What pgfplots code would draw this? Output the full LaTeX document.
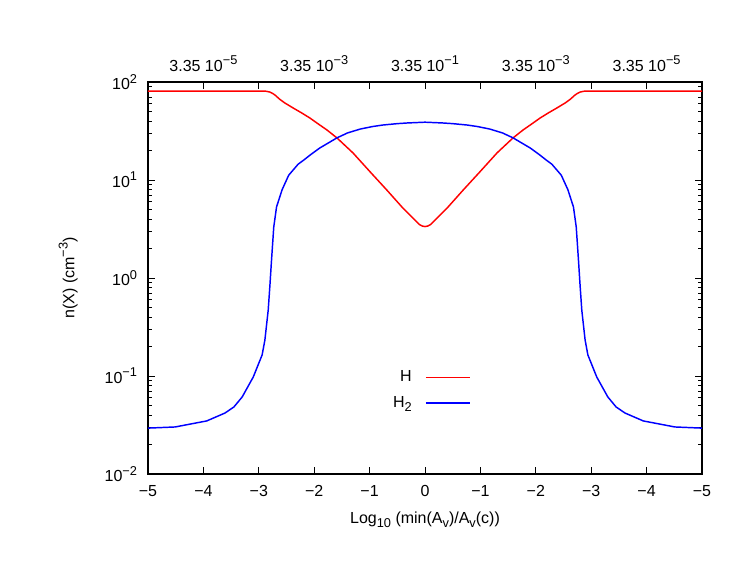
\documentclass[border=0pt]{standalone}
\usepackage{fontspec}
\setmainfont{Liberation Sans}
\usepackage{pgfplots}
\pgfplotsset{compat=1.18}
\usepackage{pgfplotstable}

% gnuplot-like super/subscripts (larger than \textsuperscript)
\newcommand{\sups}[1]{\raisebox{0.42em}{\fontsize{9.6}{10}\selectfont #1}}
\newcommand{\subs}[1]{\raisebox{-0.28em}{\fontsize{9.6}{10}\selectfont #1}}

% n(H) against the symmetric depth coordinate
\pgfplotstableread{
x y
-5.00 80.9
-2.94 80.9
-2.87 80.5
-2.80 79.0
-2.75 76.5
-2.70 73.0
-2.62 66.5
-2.53 61.1
-2.38 54.3
-2.23 48.5
-2.08 43.0
-1.92 37.1
-1.77 32.4
-1.59 26.9
-1.30 18.9
-0.99 12.1
-0.69 7.91
-0.40 5.18
-0.25 4.27
-0.18 3.89
-0.10 3.51
-0.05 3.39
0.00 3.35
0.05 3.39
0.10 3.51
0.18 3.89
0.25 4.27
0.40 5.18
0.69 7.91
0.99 12.1
1.30 18.9
1.59 26.9
1.77 32.4
1.92 37.1
2.08 43.0
2.23 48.5
2.38 54.3
2.53 61.1
2.62 66.5
2.70 73.0
2.75 76.5
2.80 79.0
2.87 80.5
2.94 80.9
5.00 80.9
}\Hdata

% n(H2)
\pgfplotstableread{
x y
-5.00 0.0294
-4.51 0.0302
-3.94 0.0348
-3.61 0.0419
-3.45 0.0483
-3.30 0.0611
-3.10 0.0977
-2.94 0.164
-2.89 0.233
-2.83 0.471
-2.80 0.83
-2.77 1.53
-2.73 3.31
-2.68 5.30
-2.58 7.94
-2.46 11.2
-2.29 14.5
-2.20 15.8
-2.05 18.4
-1.90 21.2
-1.59 26.9
-1.40 30.2
-1.17 33.1
-0.95 35.1
-0.76 36.4
-0.50 37.6
-0.32 38.2
0.00 38.9
0.32 38.2
0.50 37.6
0.76 36.4
0.95 35.1
1.17 33.1
1.40 30.2
1.59 26.9
1.90 21.2
2.05 18.4
2.20 15.8
2.29 14.5
2.46 11.2
2.58 7.94
2.68 5.30
2.73 3.31
2.77 1.53
2.80 0.83
2.83 0.471
2.89 0.233
2.94 0.164
3.10 0.0977
3.30 0.0611
3.45 0.0483
3.61 0.0419
3.94 0.0348
4.51 0.0302
5.00 0.0294
}\HHdata

\begin{document}
\fontsize{12}{14}\selectfont
\begin{tikzpicture}
\path[use as bounding box] (-111pt,-80.25pt) rectangle (453pt,355.5pt);
\begin{axis}[
  scale only axis, width=415.5pt, height=294pt,
  xmin=-5, xmax=5,
  ymode=log, ymin=0.01, ymax=100,
  xtick={-5,-4,-3,-2,-1,0,1,2,3,4,5},
  xticklabels={−5,−4,−3,−2,−1,0,−1,−2,−3,−4,−5},
  ytick={0.01,0.1,1,10,100},
  yticklabels={10\sups{−2},10\sups{−1},10\sups{0},10\sups{1},10\sups{2}},
  minor ytick={0.02,0.03,0.04,0.05,0.06,0.07,0.08,0.09,
               0.2,0.3,0.4,0.5,0.6,0.7,0.8,0.9,
               2,3,4,5,6,7,8,9,20,30,40,50,60,70,80,90},
  tick align=inside,
  major tick length=5.25pt, minor tick length=3pt,
  tick style={black, line width=0.6pt},
  axis line style={line width=0.8pt},
  xticklabel style={yshift=-4.5pt},
  yticklabel style={xshift=-4pt},
  xlabel={Log\subs{10} (min(A\subs{v})/A\subs{v}(c))},
  ylabel={n(X) (cm\sups{−3})},
  xlabel style={at={(axis description cs:0.5,0)}, anchor=center, yshift=-34.5pt},
  ylabel style={at={(axis description cs:-0.144,0.5)}, anchor=center},
]
  \addplot[red, line width=1.1pt] table[x=x, y=y] {\Hdata};
  \addplot[blue, line width=1.1pt] table[x=x, y=y] {\HHdata};
\end{axis}
% top axis: labels of the other scale, and the legend
\begin{axis}[
  scale only axis, width=415.5pt, height=294pt,
  xmin=-5, xmax=5, ymin=0, ymax=1,
  axis x line*=top, axis y line=none,
  xtick={-4,-2,0,2,4},
  xticklabels={3.35 10\sups{−5},3.35 10\sups{−3},3.35 10\sups{−1},3.35 10\sups{−3},3.35 10\sups{−5}},
  major tick length=0pt,
  axis line style={draw=none},
  xticklabel style={yshift=3.5pt},
  legend plot pos=right,
  legend cell align=right,
  legend image code/.code={\draw[#1] (0pt,0pt) -- (33pt,0pt);},
  legend style={draw=none, fill=none, at={(0.590,0.214)}, anchor=east,
    column sep=8pt, row sep=5pt},
]
  \addlegendimage{red, line width=1.1pt}
  \addlegendentry{H}
  \addlegendimage{blue, line width=1.1pt}
  \addlegendentry{H\subs{2}}
\end{axis}
\end{tikzpicture}
\end{document}
